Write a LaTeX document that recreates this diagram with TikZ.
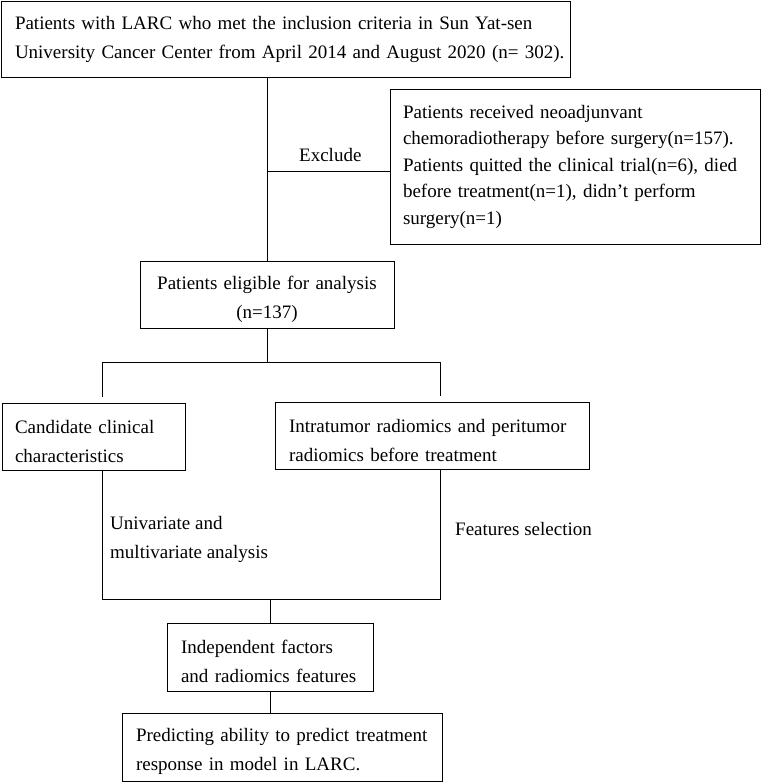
\documentclass[tikz,border=0pt]{standalone}
\usepackage{fontspec}
\setmainfont{Liberation Serif}
\newcommand{\boxfont}{\fontsize{19pt}{29pt}\selectfont}
\begin{document}
\begin{tikzpicture}[x=1pt,y=-1pt,
    box/.style={draw, line width=0.8pt, inner xsep=14pt, inner ysep=0pt, align=left, font=\boxfont},
    lowbox/.style={box, execute at begin node={\rule{0pt}{23pt}}},
    lbl/.style={inner sep=0pt, align=left, anchor=west, font=\boxfont},
    link/.style={line width=0.8pt}]
    \path[fill=white, use as bounding box] (0,0) rectangle (761,782);
    \node[box, text width=541pt, minimum height=76pt] (enrol) at (285.5,39)
        {\makebox[540pt][s]{Patients with LARC who met the inclusion criteria in Sun Yat-sen}\\
         \mbox{University Cancer Center from April 2014 and August 2020 (n= 302).}};
    \node[box, text width=344pt, minimum height=155pt, inner xsep=13pt,
        font=\fontsize{19pt}{26.5pt}\selectfont] (excl) at (575,166.5)
        {\mbox{Patients received neoadjunvant}\\
         \mbox{chemoradiotherapy before surgery(n=157).}\\
         \mbox{Patients quitted the clinical trial(n=6), died}\\
         \mbox{before treatment(n=1), didn’t perform}\\
         \mbox{surgery(n=1)}};
    \node[lowbox, text width=226pt, minimum height=67pt, align=center] (elig) at (267,294.5)
        {Patients eligible for analysis\\(n=137)};
    \node[lowbox, text width=157pt, minimum height=67pt, inner xsep=13pt] (clin) at (93.5,436.5)
        {\mbox{Candidate clinical}\\\mbox{characteristics}};
    \node[lowbox, text width=286pt, minimum height=67pt] (radio) at (432,435.5)
        {\mbox{Intratumor radiomics and peritumor}\\\mbox{radiomics before treatment}};
    \node[lowbox, text width=178pt, minimum height=68pt] (indep) at (270,657)
        {\mbox{Independent factors}\\\mbox{and radiomics features}};
    \node[lowbox, text width=292pt, minimum height=68pt] (pred) at (282,747)
        {\mbox{Predicting ability to predict treatment}\\\mbox{response in model in LARC.}};
    \coordinate (exj) at (390,171);
    \coordinate (fl) at (102,362);
    \coordinate (fr) at (440,362);
    \coordinate (fle) at (102,397);
    \coordinate (fre) at (440,396);
    \coordinate (jl) at (102,599);
    \coordinate (jr) at (440,599);
    \draw[link] (enrol.south -| elig.north) -- (elig.north);
    \draw[link] (elig.north |- exj) -- (exj);
    \node[lbl] (exlbl) at (299,155) {Exclude};
    \draw[link] (elig.south) -- (elig.south |- fl);
    \draw[link] (fle) -- (fl) -- (fr) -- (fre);
    \draw[link] (clin.south -| jl) -- (jl) -- (jr) -- (radio.south -| jr);
    \node[lbl] (unilbl) at (110,539) {Univariate and\\multivariate analysis};
    \node[lbl] (fslbl) at (455,529) {Features selection};
    \draw[link] (jl -| indep.north) -- (indep.north);
    \draw[link] (indep.south) -- (indep.south |- pred.north);
\end{tikzpicture}
\end{document}
